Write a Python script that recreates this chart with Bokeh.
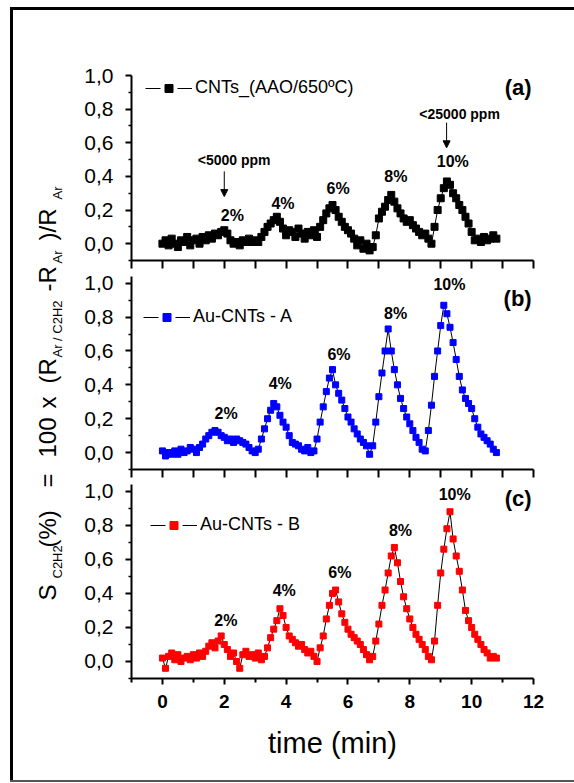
import math
from bokeh.plotting import figure
from bokeh.layouts import row, column, Spacer
from bokeh.models import (Range1d, FixedTicker, Label, Arrow, NormalHead,
                          Legend, LegendItem)
from bokeh.embed import file_html
from bokeh.resources import INLINE

FONT = "Liberation Sans"
NAN = float("nan")

# ---------------- data ----------------
time_min = [round(0.1 * i, 1) for i in range(109)]

s_cnts = [0.00, 0.02, -0.01, 0.03, 0.00, -0.02, 0.02, 0.01, 0.04, -0.01,
          0.02, 0.03, 0.00, 0.04, 0.02, 0.05, 0.03, 0.06, 0.05, 0.07,
          0.08, 0.06, 0.02, 0.00, 0.01, -0.01, 0.02, 0.01, 0.03, 0.01,
          0.02, 0.01, 0.04, 0.07, 0.10, 0.12, 0.14, 0.16, 0.13, 0.09,
          0.05, 0.08, 0.07, 0.04, 0.09, 0.06, 0.03, 0.07, 0.05, 0.08,
          0.04, 0.10, 0.14, 0.18, 0.21, 0.23, 0.20, 0.16, 0.13, 0.10,
          0.08, 0.06, 0.03, -0.01, 0.02, -0.03, 0.00, -0.04, -0.02, 0.05,
          0.15, 0.19, 0.22, 0.26, 0.29, 0.25, 0.21, 0.18, 0.15, 0.13,
          0.14, 0.11, 0.09, 0.07, 0.05, 0.06, 0.03, 0.00, 0.10, 0.20,
          0.27, 0.33, 0.37, 0.35, 0.30, 0.27, 0.23, 0.20, 0.16, 0.12,
          0.07, 0.02, 0.03, 0.01, 0.04, 0.02, 0.03, 0.05, 0.03]

s_au_a = [0.01, -0.02, 0.00, -0.01, 0.01, -0.01, 0.02, 0.00, 0.01, 0.03,
          0.02, 0.00, 0.03, 0.05, 0.08, 0.10, 0.12, 0.13, 0.12, 0.10,
          0.09, 0.07, 0.08, 0.06, 0.08, 0.07, 0.06, 0.05, 0.03, 0.01,
          0.00, 0.02, 0.08, 0.14, 0.20, 0.25, 0.29, 0.27, 0.22, 0.18,
          0.15, 0.10, 0.06, 0.05, 0.04, 0.02, 0.01, 0.03, 0.00, 0.01,
          0.08, 0.18, 0.27, 0.36, 0.44, 0.49, 0.40, 0.35, 0.31, 0.26,
          0.21, 0.18, 0.14, 0.11, 0.08, 0.06, 0.04, -0.01, 0.04, 0.18,
          0.33, 0.47, 0.60, 0.73, 0.60, 0.49, 0.40, 0.32, 0.26, 0.21,
          0.17, 0.13, 0.09, 0.06, 0.02, 0.01, 0.13, 0.28, 0.45, 0.60,
          0.75, 0.87, 0.82, 0.74, 0.65, 0.55, 0.45, 0.37, 0.32, 0.29,
          0.26, 0.20, 0.15, 0.11, 0.09, 0.07, 0.05, 0.02, 0.00]

s_au_b = [0.02, -0.04, 0.03, 0.05, 0.01, 0.04, 0.00, 0.02, 0.03, 0.01,
          0.04, 0.02, 0.05, 0.03, 0.06, 0.09, 0.11, 0.08, 0.12, 0.15,
          0.10, 0.07, 0.03, 0.05, 0.00, -0.04, 0.04, 0.06, 0.03, 0.04,
          0.02, 0.05, 0.01, 0.03, 0.08, 0.14, 0.19, 0.24, 0.31, 0.27,
          0.20, 0.15, 0.13, 0.11, 0.09, 0.10, 0.07, 0.05, 0.06, 0.03,
          0.00, 0.08, 0.15, 0.25, 0.33, 0.40, 0.42, 0.35, 0.28, 0.23,
          0.19, 0.16, 0.14, 0.12, 0.10, 0.07, 0.04, 0.01, 0.03, 0.12,
          0.22, 0.33, 0.42, 0.52, 0.62, 0.67, 0.58, 0.47, 0.38, 0.31,
          0.25, 0.20, 0.16, 0.13, 0.10, 0.07, 0.03, 0.01, 0.12, 0.33,
          0.52, 0.66, 0.78, 0.88, 0.72, 0.62, 0.53, 0.42, 0.30, 0.24,
          0.20, 0.16, 0.13, 0.10, 0.07, 0.05, 0.02, 0.03, 0.02]

series_names = ["CNTs_(AAO/650\u00baC)", "Au-CNTs - A", "Au-CNTs - B"]
series_colors = ["black", "#0000ff", "#ff0000"]
panel_tags = ["(a)", "(b)", "(c)"]
peak_labels = ["2%", "4%", "6%", "8%", "10%"]

y_ticks = [0.0, 0.2, 0.4, 0.6, 0.8, 1.0]
y_tick_labels = ["0,0", "0,2", "0,4", "0,6", "0,8", "1,0"]
y_minor = [-0.1, 0.1, 0.3, 0.5, 0.7, 0.9]
x_ticks = [0, 2, 4, 6, 8, 10, 12]
x_tick_labels = ["0", "2", "4", "6", "8", "10", "12"]
x_minor = [-1, 1, 3, 5, 7, 9, 11]
x_all_units = [-1, 0, 1, 2, 3, 4, 5, 6, 7, 8, 9, 10, 11, 12]


def make_panel(height, b_top, b_bottom, y_top, ys, color, msize, name,
               legend_loc, tag, tag_y, peak_pos, bottom_labels):
    p = figure(width=495, height=height, x_range=Range1d(-1, 12),
               y_range=Range1d(-0.1, y_top), output_backend="svg",
               toolbar_location=None, min_border_left=60,
               min_border_right=33, min_border_top=b_top,
               min_border_bottom=b_bottom)
    p.outline_line_color = None
    p.grid.visible = False

    p.line(time_min, ys, line_color="black", line_width=1)
    sc = p.scatter(time_min, ys, marker="square", size=msize,
                   fill_color=color, line_color=color)
    # legend-only line style "— ■ —" (NaN data: nothing drawn in the plot)
    leg_line = p.line([NAN, NAN], [NAN, NAN], line_color="black",
                      line_width=1, line_dash="15 17")

    ya = p.yaxis[0]
    ya.ticker = FixedTicker(ticks=y_ticks, minor_ticks=y_minor)
    ya.major_label_overrides = dict(zip(y_ticks, y_tick_labels))
    ya.major_label_text_font = FONT
    ya.major_label_text_font_size = "21px"
    ya.major_label_text_color = "black"
    ya.major_label_standoff = 12
    ya.major_tick_in = 0
    ya.major_tick_out = 6
    ya.minor_tick_in = 0
    ya.minor_tick_out = 3
    ya.axis_line_width = 2
    ya.major_tick_line_width = 2
    ya.minor_tick_line_width = 1.5

    xa = p.xaxis[0]
    xa.axis_line_width = 2
    xa.major_tick_in = 0
    xa.minor_tick_in = 0
    xa.major_tick_line_width = 2
    xa.minor_tick_line_width = 2
    if bottom_labels:
        xa.ticker = FixedTicker(ticks=x_ticks, minor_ticks=x_minor)
        xa.major_label_overrides = dict(zip(x_ticks, x_tick_labels))
        xa.major_tick_out = 6
        xa.minor_tick_out = 4
        xa.major_label_text_font = FONT
        xa.major_label_text_font_size = "19px"
        xa.major_label_text_font_style = "bold"
        xa.major_label_text_color = "black"
        xa.major_label_standoff = 10
        xa.axis_label = "time (min)"
        xa.axis_label_text_font = FONT
        xa.axis_label_text_font_size = "29px"
        xa.axis_label_text_font_style = "normal"
        xa.axis_label_text_color = "black"
        xa.axis_label_standoff = 16
    else:
        # only tick marks, no labels (shared time axis)
        xa.ticker = FixedTicker(ticks=[], minor_ticks=x_all_units)
        xa.major_tick_out = 0
        xa.minor_tick_out = 8

    leg = Legend(items=[LegendItem(label=name, renderers=[leg_line, sc])],
                 location=legend_loc, glyph_width=47, glyph_height=20,
                 label_standoff=3, padding=0, margin=0, spacing=0,
                 border_line_color=None, background_fill_alpha=0,
                 label_text_font=FONT, label_text_font_size="18px",
                 label_text_color="black")
    p.add_layout(leg)

    p.add_layout(Label(x=11.94, y=tag_y, text=tag, text_align="right",
                       text_baseline="middle", text_font=FONT,
                       text_font_size="22px", text_font_style="bold",
                       text_color="black"))
    for txt, (px_, py_) in zip(peak_labels, peak_pos):
        p.add_layout(Label(x=px_, y=py_, text=txt, text_align="center",
                           text_baseline="middle", text_font=FONT,
                           text_font_size="16px", text_font_style="bold",
                           text_color="black"))
    return p


# page rows: fa 10-272, fb 272-478, fc 478-780
fa = make_panel(262, 65, 12, 1.0, s_cnts, series_colors[0], 7,
                series_names[0], (14, 162), panel_tags[0], 0.93,
                [(2.26, 0.17), (3.9, 0.24), (5.68, 0.33), (7.55, 0.40),
                 (9.39, 0.49)], False)
fb = make_panel(206, 4, 9, 1.04, s_au_a, series_colors[1], 6,
                series_names[1], (12, 142), panel_tags[1], 0.91,
                [(2.06, 0.23), (3.81, 0.41), (5.71, 0.58), (7.54, 0.82),
                 (9.28, 0.99)], False)
fc = make_panel(302, 6, 102, 1.04, s_au_b, series_colors[2], 6,
                series_names[2], (19, 143), panel_tags[2], 0.96,
                [(2.05, 0.24), (3.94, 0.42), (5.74, 0.52), (7.70, 0.77),
                 (9.45, 0.98)], True)

# ppm annotations in panel (a)
for txt, tx, ty in [("<5000 ppm", 2.32, 0.50), ("<25000 ppm", 9.61, 0.77)]:
    fa.add_layout(Label(x=tx, y=ty, text=txt, text_align="center",
                        text_baseline="middle", text_font=FONT,
                        text_font_size="14px", text_font_style="bold",
                        text_color="black"))
for ax_, y0, y1 in [(2.0, 0.43, 0.28), (9.19, 0.72, 0.57)]:
    fa.add_layout(Arrow(end=NormalHead(size=7, fill_color="black",
                                       line_color="black"),
                        x_start=ax_, y_start=y0, x_end=ax_, y_end=y1,
                        line_width=1, line_color="black"))

# ---------------- y label (rotated, with subscripts) ----------------
CONTENT_H = 770
ylf = figure(width=58, height=CONTENT_H, x_range=Range1d(0, 1),
             y_range=Range1d(0, 1), output_backend="svg",
             toolbar_location=None, min_border=0)
ylf.axis.visible = False
ylf.grid.visible = False
ylf.outline_line_color = None

main_parts = [("S", 600), ("(%)", 547), ("=", 487), ("100", 457),
              ("x", 408), ("(R", 383), ("-R", 291), (")/R", 240)]
sub_parts = [("C2H2", 578), ("Ar / C2H2", 357), ("Ar", 263), ("Ar", 199)]
for txt, start in main_parts:
    ylf.add_layout(Label(x=34, y=780 - start, x_units="screen",
                         y_units="screen", angle=math.pi / 2, text=txt,
                         text_align="left", text_baseline="alphabetic",
                         text_font=FONT, text_font_size="24px",
                         text_color="black"))
for txt, start in sub_parts:
    ylf.add_layout(Label(x=44, y=780 - start, x_units="screen",
                         y_units="screen", angle=math.pi / 2, text=txt,
                         text_align="left", text_baseline="alphabetic",
                         text_font=FONT, text_font_size="13px",
                         text_color="black"))

# ---------------- frame (page border of the original figure) ----------------
top_strip = Spacer(width=564, height=3, styles={"background-color": "black"})
left_strip = Spacer(width=3, height=CONTENT_H,
                    styles={"background-color": "black"})
bottom_strip = Spacer(width=564, height=2,
                      styles={"background-color": "#555555"})

framed = column(top_strip,
                row(left_strip, ylf, column(fa, fb, fc)),
                bottom_strip)
layout = column(Spacer(width=574, height=7),
                row(Spacer(width=10, height=10), framed))

open("out.html", "w").write(file_html(layout, INLINE))
